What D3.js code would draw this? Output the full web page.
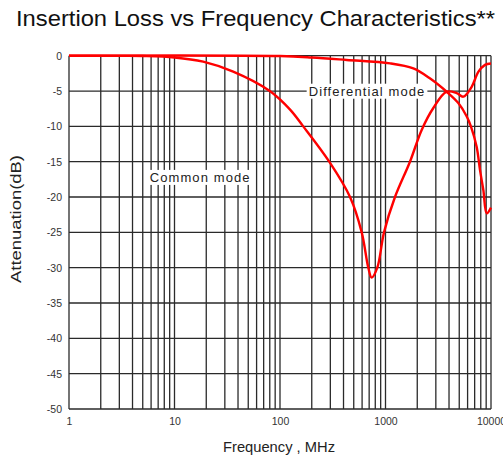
<!DOCTYPE html>
<html>
<head>
<meta charset="utf-8">
<script src="https://cdn.jsdelivr.net/npm/d3@7"></script>
<style>
  html, body { margin: 0; padding: 0; background: #fff; }
  svg { display: block; font-family: "Liberation Sans", Arial, sans-serif; }
</style>
</head>
<body>
<script>
// valores
const freqTicks = [1, 10, 100, 1000, 10000];
const dbTicks = [0, -5, -10, -15, -20, -25, -30, -35, -40, -45, -50];

const commonFreq = [1, 5, 10, 18.7, 36, 80, 124, 166, 293, 461, 595, 687, 740, 836, 968, 1230, 1706, 2203, 2840, 3800, 4730, 5460, 6560, 7580, 8770, 10000];
const commonDb = [0, -0.05, -0.25, -0.85, -2.26, -5.0, -7.6, -10.0, -15.0, -20.0, -25.0, -30.0, -31.4, -30.0, -25.0, -20.0, -15.0, -10.5, -7.4, -5.1, -5.3, -5.8, -4.4, -2.3, -1.3, -1.1];

const diffFreq = [1, 100, 200, 428, 1104, 1835, 2630, 3800, 4900, 5890, 6450, 7310, 7870, 8460, 9110, 10000];
const diffDb = [0, -0.05, -0.25, -0.6, -1.08, -1.8, -3.2, -5.1, -6.7, -8.6, -10.0, -12.9, -16.2, -19.0, -22.3, -21.5];

const labelNames = ['Common mode', 'Differential mode'];
const labelFreq = [17.5, 668];
const labelDb = [-17.2, -5];

const W = 503, H = 460;
const margin = { top: 55.7, right: 12, bottom: 51, left: 69 };

const svg = d3.select('body').append('svg')
    .attr('width', W)
    .attr('height', H);

const x = d3.scaleLog().domain([1, 10000]).range([margin.left, W - margin.right]);
const y = d3.scaleLinear().domain([-50, 0]).range([H - margin.bottom, margin.top]);

// Titulo
svg.append('text')
    .attr('x', 16)
    .attr('y', 25.5)
    .attr('font-size', 22)
    .attr('fill', '#111')
    .attr('textLength', 479)
    .attr('lengthAdjust', 'spacingAndGlyphs')
    .text('Insertion Loss vs Frequency Characteristics**');

// Rejilla
const grid = svg.append('g')
    .attr('stroke', '#2a2a2a')
    .attr('stroke-width', 1.3);

grid.selectAll('line.v')
    .data(x.ticks())
    .join('line')
    .attr('x1', d => x(d)).attr('x2', d => x(d))
    .attr('y1', y(0)).attr('y2', y(-50));

grid.selectAll('line.h')
    .data(dbTicks)
    .join('line')
    .attr('class', 'h')
    .attr('x1', x(1)).attr('x2', x(10000))
    .attr('y1', d => y(d)).attr('y2', d => y(d));

// Ejes (solo etiquetas)
const xAxis = svg.append('g')
    .attr('transform', `translate(0,${y(-50)})`)
    .call(d3.axisBottom(x).tickValues(freqTicks).tickSize(0).tickPadding(9).tickFormat(d => String(d)));

const yAxis = svg.append('g')
    .attr('transform', `translate(${x(1)},0)`)
    .call(d3.axisLeft(y).tickValues(dbTicks).tickSize(0).tickPadding(7).tickFormat(d => String(d)));

[xAxis, yAxis].forEach(g => {
    g.select('.domain').remove();
    g.selectAll('text')
        .attr('font-size', 10.5)
        .attr('font-family', '"Liberation Sans", Arial, sans-serif')
        .attr('fill', '#333');
});

// Titulos de ejes
svg.append('text')
    .attr('x', (x(1) + x(10000)) / 2 - 1)
    .attr('y', 452)
    .attr('text-anchor', 'middle')
    .attr('font-size', 14)
    .attr('fill', '#222')
    .attr('textLength', 112)
    .attr('lengthAdjust', 'spacingAndGlyphs')
    .text('Frequency , MHz');

svg.append('text')
    .attr('transform', 'translate(21,219) rotate(-90)')
    .attr('text-anchor', 'middle')
    .attr('font-size', 15)
    .attr('fill', '#222')
    .attr('textLength', 128)
    .attr('lengthAdjust', 'spacingAndGlyphs')
    .text('Attenuation(dB)');

// Etiquetas de las curvas con fondo blanco
const labels = svg.append('g');
labelNames.forEach((name, i) => {
    const g = labels.append('g')
        .attr('transform', `translate(${x(labelFreq[i])},${y(labelDb[i])})`);
    const t = g.append('text')
        .attr('text-anchor', 'middle')
        .attr('dy', '0.36em')
        .attr('font-size', 13)
        .attr('fill', '#222')
        .attr('letter-spacing', 1.1)
        .text(name);
    const bb = t.node().getBBox();
    g.insert('rect', 'text')
        .attr('x', bb.x - 2)
        .attr('y', bb.y)
        .attr('width', bb.width + 4)
        .attr('height', bb.height)
        .attr('fill', '#fff');
});

// Curvas
const line = d3.line()
    .x(d => x(d[0]))
    .y(d => y(d[1]))
    .curve(d3.curveCatmullRom.alpha(0.5));

[[commonFreq, commonDb], [diffFreq, diffDb]].forEach(([f, v]) => {
    svg.append('path')
        .datum(f.map((d, i) => [d, v[i]]))
        .attr('fill', 'none')
        .attr('stroke', '#ff0000')
        .attr('stroke-width', 2.4)
        .attr('stroke-linejoin', 'round')
        .attr('d', line);
});
</script>
</body>
</html>
